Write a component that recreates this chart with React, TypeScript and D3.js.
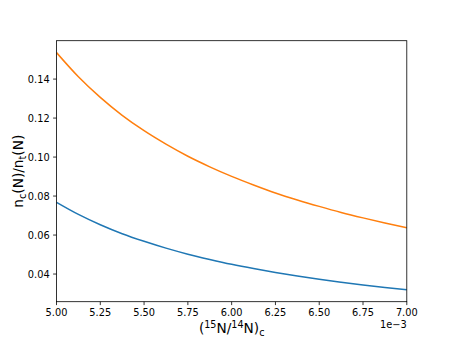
import React from "react";
import * as d3 from "d3";

const xValues = [5.0, 5.125, 5.25, 5.375, 5.5, 5.625, 5.75, 5.875, 6.0, 6.125, 6.25, 6.375, 6.5, 6.625, 6.75, 6.875, 7.0];
const blueSeries = [0.0768, 0.0706, 0.0653, 0.0607, 0.0568, 0.0533, 0.0502, 0.0475, 0.045, 0.0428, 0.0408, 0.039, 0.0373, 0.0358, 0.0344, 0.0331, 0.0319];
const orangeSeries = [0.1536, 0.1412, 0.1306, 0.1214, 0.1135, 0.1066, 0.1004, 0.095, 0.0901, 0.0857, 0.0816, 0.078, 0.0747, 0.0716, 0.0688, 0.0662, 0.0638];
const xTicks = [5.0, 5.25, 5.5, 5.75, 6.0, 6.25, 6.5, 6.75, 7.0];
const yTicks = [0.04, 0.06, 0.08, 0.1, 0.12, 0.14];

const W = 452, H = 339;
const L = 56.5, R = 406.8, T = 40.7, B = 301.7;
const FONT = "DejaVu Sans";

export default function App() {
  const allY = [...blueSeries, ...orangeSeries];
  const ymin = d3.min(allY)!, ymax = d3.max(allY)!;
  const pad = (ymax - ymin) * 0.05;
  const x = d3.scaleLinear().domain([5.0, 7.0]).range([L, R]);
  const y = d3.scaleLinear().domain([ymin - pad, ymax + pad]).range([B, T]);
  const line = d3.line<number>().x((_, i) => x(xValues[i])).y((d) => y(d)).curve(d3.curveMonotoneX);
  const tickLen = 3.4;
  return (
    <svg width={W} height={H} style={{ position: "absolute", left: 0, top: 0, background: "#fff" }} fontFamily={FONT}>
      <rect x={0} y={0} width={W} height={H} fill="#fff" />
      <defs>
        <clipPath id="clip"><rect x={L} y={T} width={R - L} height={B - T} /></clipPath>
      </defs>
      <g clipPath="url(#clip)">
        <path d={line(blueSeries)!} fill="none" stroke="#1f77b4" strokeWidth={1.5} />
        <path d={line(orangeSeries)!} fill="none" stroke="#ff7f0e" strokeWidth={1.5} />
      </g>
      <rect x={L} y={T} width={R - L} height={B - T} fill="none" stroke="#000" strokeWidth={0.8} />
      {xTicks.map((t) => (
        <g key={"x" + t}>
          <line x1={x(t)} x2={x(t)} y1={B} y2={B + tickLen} stroke="#000" strokeWidth={0.8} />
          <text x={x(t)} y={B + 14.3} fontSize={9.8} textAnchor="middle" fill="#000">{t.toFixed(2)}</text>
        </g>
      ))}
      {yTicks.map((t) => (
        <g key={"y" + t}>
          <line x1={L - tickLen} x2={L} y1={y(t)} y2={y(t)} stroke="#000" strokeWidth={0.8} />
          <text x={L - 6.8} y={y(t) + 3.6} fontSize={9.8} textAnchor="end" fill="#000">{t.toFixed(2)}</text>
        </g>
      ))}
      <text x={R} y={328} fontSize={9.8} textAnchor="end" fill="#000">1e−3</text>
      <text x={(L + R) / 2} y={333} fontSize={13.7} textAnchor="middle" fill="#000">
        <tspan>(</tspan>
        <tspan fontSize={9.6} dy={-5}>15</tspan>
        <tspan dy={5}>N/</tspan>
        <tspan fontSize={9.6} dy={-5}>14</tspan>
        <tspan dy={5}>N)</tspan>
        <tspan fontSize={9.6} dy={2.5}>c</tspan>
      </text>
      <text transform={`translate(23,${(T + B) / 2}) rotate(-90)`} fontSize={13.7} textAnchor="middle" fill="#000">
        <tspan>n</tspan>
        <tspan fontSize={9.6} dy={2.5}>c</tspan>
        <tspan dy={-2.5}>(N)/n</tspan>
        <tspan fontSize={9.6} dy={2.5}>t</tspan>
        <tspan dy={-2.5}>(N)</tspan>
      </text>
    </svg>
  );
}
